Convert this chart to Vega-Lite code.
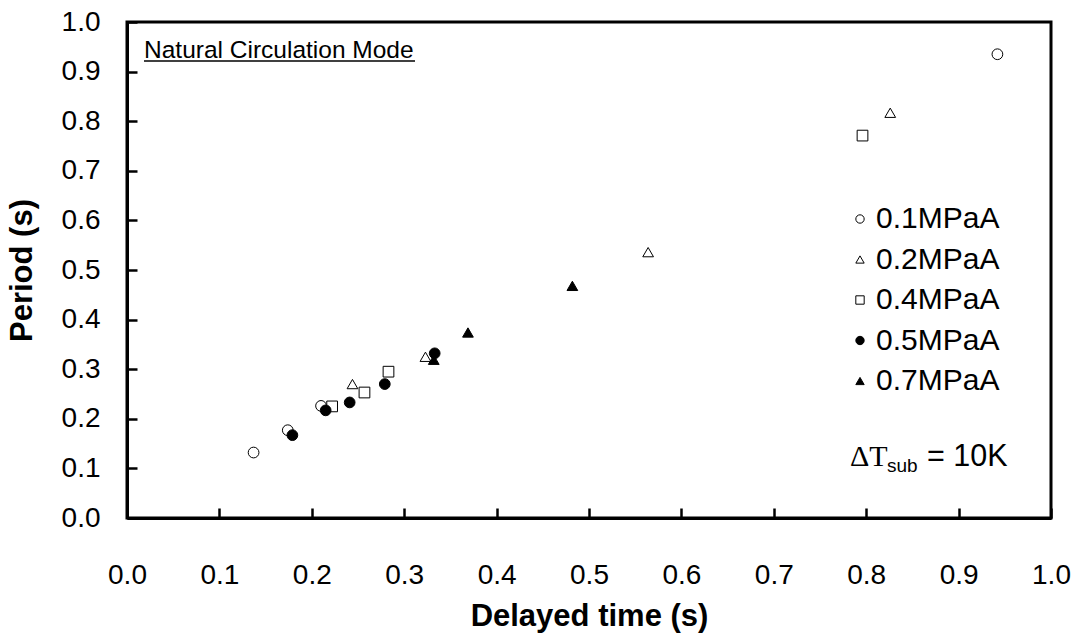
{
  "$schema": "https://vega.github.io/schema/vega-lite/v6.json",
  "width": 924,
  "height": 496,
  "autosize": {"type": "none"},
  "padding": {"left": 127, "top": 22, "right": 33, "bottom": 119},
  "background": "white",
  "config": {
    "font": "Liberation Sans",
    "view": {"stroke": "black", "strokeWidth": 3},
    "axis": {
      "grid": false,
      "domainColor": "black",
      "domainWidth": 3,
      "tickColor": "black",
      "tickWidth": 2.5,
      "tickSize": -10,
      "labelColor": "black",
      "labelFontSize": 28,
      "labelFlush": false,
      "labelOverlap": false,
      "titleColor": "black",
      "titleFontSize": 31,
      "titleFontWeight": "bold"
    }
  },
  "layer": [
    {
      "data": {
        "values": [
          {"pressure": "0.1MPaA", "delay": 0.137, "period": 0.132},
          {"pressure": "0.1MPaA", "delay": 0.174, "period": 0.177},
          {"pressure": "0.1MPaA", "delay": 0.210, "period": 0.226},
          {"pressure": "0.1MPaA", "delay": 0.942, "period": 0.935},
          {"pressure": "0.2MPaA", "delay": 0.244, "period": 0.270},
          {"pressure": "0.2MPaA", "delay": 0.323, "period": 0.325},
          {"pressure": "0.2MPaA", "delay": 0.564, "period": 0.536},
          {"pressure": "0.2MPaA", "delay": 0.826, "period": 0.817},
          {"pressure": "0.4MPaA", "delay": 0.222, "period": 0.225},
          {"pressure": "0.4MPaA", "delay": 0.257, "period": 0.253},
          {"pressure": "0.4MPaA", "delay": 0.283, "period": 0.295},
          {"pressure": "0.4MPaA", "delay": 0.796, "period": 0.771},
          {"pressure": "0.5MPaA", "delay": 0.179, "period": 0.167},
          {"pressure": "0.5MPaA", "delay": 0.215, "period": 0.217},
          {"pressure": "0.5MPaA", "delay": 0.241, "period": 0.233},
          {"pressure": "0.5MPaA", "delay": 0.279, "period": 0.270},
          {"pressure": "0.5MPaA", "delay": 0.333, "period": 0.332},
          {"pressure": "0.7MPaA", "delay": 0.332, "period": 0.319},
          {"pressure": "0.7MPaA", "delay": 0.369, "period": 0.374},
          {"pressure": "0.7MPaA", "delay": 0.482, "period": 0.468}
        ]
      },
      "mark": {"type": "point", "filled": true, "strokeWidth": 1, "size": 115, "opacity": 1},
      "encoding": {
        "x": {
          "field": "delay",
          "type": "quantitative",
          "title": "Delayed time (s)",
          "scale": {"domain": [0, 1], "nice": false, "zero": false},
          "axis": {
            "values": [0, 0.1, 0.2, 0.3, 0.4, 0.5, 0.6, 0.7, 0.8, 0.9, 1.0],
            "format": ".1f",
            "labelPadding": 53,
            "titlePadding": 12,
            "encode": {"labels": {"update": {"dx": {"signal": "18 - 16 * datum.value"}}}}
          }
        },
        "y": {
          "field": "period",
          "type": "quantitative",
          "title": "Period (s)",
          "scale": {"domain": [0, 1], "nice": false, "zero": false},
          "axis": {
            "values": [0, 0.1, 0.2, 0.3, 0.4, 0.5, 0.6, 0.7, 0.8, 0.9, 1.0],
            "format": ".1f",
            "labelPadding": 37,
            "titlePadding": 23
          }
        },
        "shape": {
          "field": "pressure",
          "type": "nominal",
          "scale": {
            "domain": ["0.1MPaA", "0.2MPaA", "0.4MPaA", "0.5MPaA", "0.7MPaA"],
            "range": ["circle", "triangle-up", "square", "circle", "triangle-up"]
          },
          "legend": {
            "title": null,
            "orient": "none",
            "legendX": 718,
            "legendY": 182,
            "labelFontSize": 30,
            "labelColor": "black",
            "labelOffset": 1,
            "rowPadding": 10.5,
            "symbolSize": 70,
            "symbolStrokeWidth": 1
          }
        },
        "fill": {
          "field": "pressure",
          "type": "nominal",
          "scale": {
            "domain": ["0.1MPaA", "0.2MPaA", "0.4MPaA", "0.5MPaA", "0.7MPaA"],
            "range": ["white", "white", "white", "black", "black"]
          },
          "legend": {
            "title": null,
            "orient": "none",
            "legendX": 718,
            "legendY": 182,
            "labelFontSize": 30,
            "labelColor": "black",
            "labelOffset": 1,
            "rowPadding": 10.5,
            "symbolSize": 70,
            "symbolStrokeWidth": 1
          }
        },
        "stroke": {
          "field": "pressure",
          "type": "nominal",
          "scale": {
            "domain": ["0.1MPaA", "0.2MPaA", "0.4MPaA", "0.5MPaA", "0.7MPaA"],
            "range": ["black", "black", "black", "black", "black"]
          },
          "legend": {
            "title": null,
            "orient": "none",
            "legendX": 718,
            "legendY": 182,
            "labelFontSize": 30,
            "labelColor": "black",
            "labelOffset": 1,
            "rowPadding": 10.5,
            "symbolSize": 70,
            "symbolStrokeWidth": 1
          }
        }
      }
    },
    {
      "data": {"values": [{"note": "Natural Circulation Mode"}]},
      "mark": {"type": "text", "align": "left", "baseline": "alphabetic", "fontSize": 24.5, "fill": "black"},
      "encoding": {"text": {"field": "note"}, "x": {"datum": 0.0184}, "y": {"datum": 0.9274}}
    },
    {
      "data": {"values": [{}]},
      "mark": {"type": "rule", "color": "black", "strokeWidth": 1.5},
      "encoding": {"x": {"datum": 0.0184}, "x2": {"datum": 0.3117}, "y": {"datum": 0.9214}}
    },
    {
      "data": {"values": [{"note": "ΔT"}]},
      "mark": {"type": "text", "align": "left", "baseline": "alphabetic", "font": "Liberation Serif", "fontSize": 30, "fill": "black"},
      "encoding": {"text": {"field": "note"}, "x": {"datum": 0.7825}, "y": {"datum": 0.105}}
    },
    {
      "data": {"values": [{"note": "sub"}]},
      "mark": {"type": "text", "align": "left", "baseline": "alphabetic", "fontSize": 19, "fill": "black"},
      "encoding": {"text": {"field": "note"}, "x": {"datum": 0.8225}, "y": {"datum": 0.0927}}
    },
    {
      "data": {"values": [{"note": "= 10K"}]},
      "mark": {"type": "text", "align": "left", "baseline": "alphabetic", "fontSize": 30.5, "fill": "black"},
      "encoding": {"text": {"field": "note"}, "x": {"datum": 0.8658}, "y": {"datum": 0.105}}
    }
  ]
}
